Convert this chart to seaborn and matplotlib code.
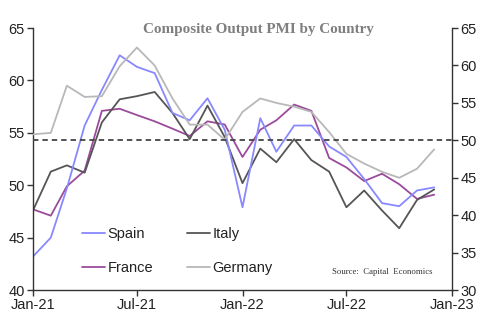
import matplotlib
matplotlib.use("Agg")
import matplotlib.pyplot as plt
from matplotlib.lines import Line2D
import numpy as np
import pandas as pd
import seaborn as sns

# ---- data ----
months = pd.date_range("2021-01-01", periods=24, freq="MS")
spain = [43.2, 45.0, 49.7, 55.7, 59.1, 62.4, 61.3, 60.7, 56.9, 56.2, 58.3, 55.3,
         47.9, 56.4, 53.2, 55.7, 55.7, 53.7, 52.7, 50.6, 48.3, 48.0, 49.5, 49.8]
italy = [47.6, 51.3, 51.9, 51.2, 56.0, 58.2, 58.5, 58.9, 56.9, 54.4, 57.6, 54.6,
         50.2, 53.5, 52.2, 54.4, 52.4, 51.3, 47.9, 49.5, 47.6, 45.9, 48.6, 49.6]
france = [47.7, 47.1, 49.9, 51.4, 57.1, 57.3, 56.7, 56.1, 55.4, 54.7, 56.1, 55.8,
          52.7, 55.3, 56.2, 57.7, 57.1, 52.6, 51.7, 50.4, 51.1, 50.1, 48.7, 49.1]
germany = [50.8, 51.0, 57.3, 55.8, 55.9, 59.9, 62.4, 60.0, 55.6, 52.1, 52.1, 50.1,
           53.8, 55.6, 55.0, 54.5, 53.8, 51.1, 48.2, 46.9, 45.8, 45.0, 46.2, 48.8]
tick_dates = pd.to_datetime(["2021-01-01", "2021-07-01", "2022-01-01", "2022-07-01", "2023-01-01"])
tick_labels = ["Jan-21", "Jul-21", "Jan-22", "Jul-22", "Jan-23"]
left_ticks = [40, 45, 50, 55, 60, 65]
right_ticks = [30, 35, 40, 45, 50, 55, 60, 65]
threshold = 50

colors = {"Spain": "#8888ff", "Italy": "#555555", "France": "#9b4b9b", "Germany": "#b8b8b8"}

df_left = pd.concat([
    pd.DataFrame({"date": months, "value": spain, "country": "Spain"}),
    pd.DataFrame({"date": months, "value": italy, "country": "Italy"}),
    pd.DataFrame({"date": months, "value": france, "country": "France"}),
])
df_right = pd.DataFrame({"date": months, "value": germany, "country": "Germany"})

sns.set_theme(style="white")
plt.rcParams['font.family'] = ['Liberation Sans', 'DejaVu Sans']

fig = plt.figure(figsize=(5, 3.3), dpi=100)
ax = fig.add_axes([0.066, 0.121, 0.838, 0.794])
ax2 = ax.twinx()

sns.lineplot(data=df_right, x="date", y="value", color=colors["Germany"], lw=1.3, ax=ax2, legend=False)
sns.lineplot(data=df_left, x="date", y="value", hue="country",
             palette={k: colors[k] for k in ["Spain", "Italy", "France"]},
             hue_order=["France", "Italy", "Spain"],
             lw=1.3, ax=ax, legend=False)
ax2.axhline(threshold, color="#444444", ls=(0, (3, 2.2)), lw=1.3)

ax.set_ylim(40, 65)
ax2.set_ylim(30, 65)
ax.set_yticks(left_ticks)
ax2.set_yticks(right_ticks)
ax.set_xlim(tick_dates[0], tick_dates[-1])
ax.set_xticks(tick_dates)
ax.set_xticklabels(tick_labels)
ax.set_xlabel("")
ax.set_ylabel("")
ax2.set_ylabel("")
ax.grid(False)
ax2.grid(False)

for a in (ax, ax2):
    for s in a.spines.values():
        s.set_color("#333333")
        s.set_linewidth(1.0)
    a.spines["top"].set_visible(False)
ax.spines["right"].set_visible(False)
ax2.spines["left"].set_visible(False)
ax2.spines["bottom"].set_visible(False)

ax.tick_params(axis="both", which="both", direction="out", length=4, width=1.0,
               color="#333333", labelsize=10.5, labelcolor="#222222", pad=2,
               left=True, bottom=True)
ax2.tick_params(axis="y", direction="out", length=4, width=1.0, color="#333333",
                labelsize=10.5, labelcolor="#222222", pad=2, right=True)

handles = [Line2D([], [], color=colors[c], lw=1.3) for c in ["Spain", "France", "Italy", "Germany"]]
leg = ax2.legend(handles, ["Spain", "France", "Italy", "Germany"], ncol=2, frameon=False,
                 loc="upper left", bbox_to_anchor=(0.117, 0.24), fontsize=10.5,
                 handlelength=1.6, handletextpad=0.15, columnspacing=2.3, labelspacing=1.35,
                 borderaxespad=0, borderpad=0)
for t in leg.get_texts():
    t.set_color("#222222")

fig.text(0.516, 0.912, "Composite Output PMI by Country", ha="center", va="center",
         fontsize=10.9, fontweight="bold", family=["Liberation Serif", "DejaVu Serif"], color="#7f7f7f")
fig.text(0.664, 0.176, "Source:  Capital  Economics", ha="left", va="center",
         fontsize=6.3, family=["Liberation Serif", "DejaVu Serif"], color="#333333")

fig.savefig("out.png", dpi=100)
